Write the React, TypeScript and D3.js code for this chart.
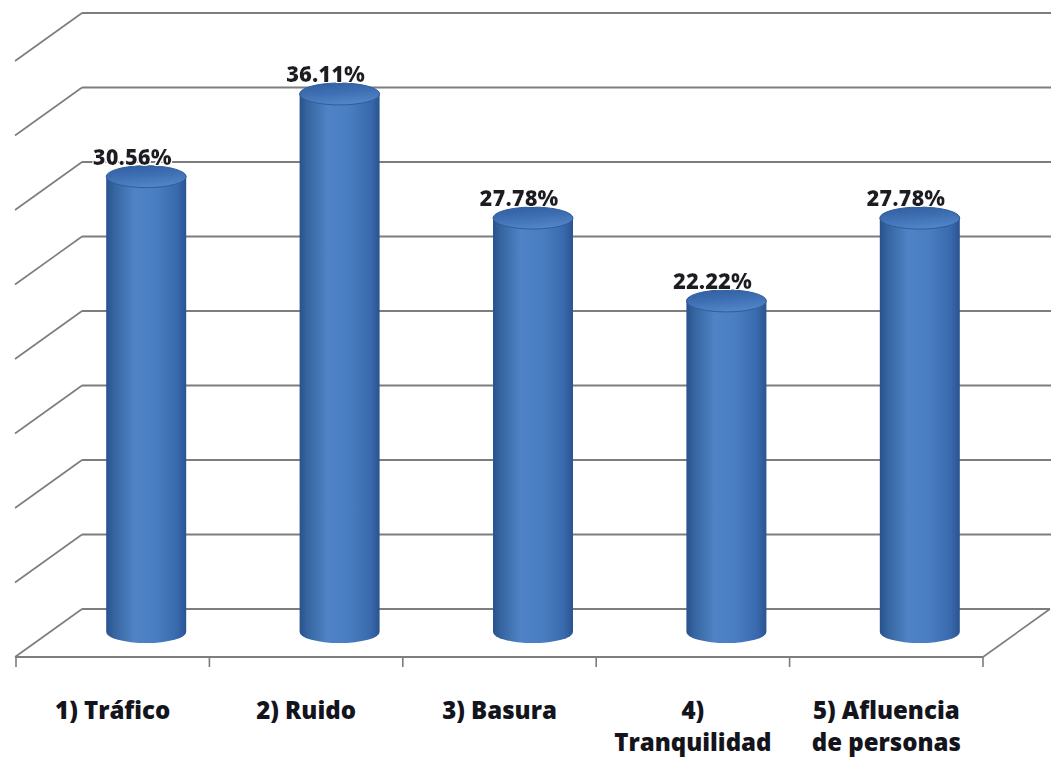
import React from "react";
import * as d3 from "d3";

const categories: string[][] = [
  ["1) Tráfico"],
  ["2) Ruido"],
  ["3) Basura"],
  ["4)", "Tranquilidad"],
  ["5) Afluencia", "de personas"],
];
const values: number[] = [30.56, 36.11, 27.78, 22.22, 27.78];
const valueLabels: string[] = ["30.56%", "36.11%", "27.78%", "22.22%", "27.78%"];
const gridTicks: number[] = [0, 5, 10, 15, 20, 25, 30, 35, 40];

const W = 1051;
const H = 760;
// 3D geometry: back wall vs. front floor edge
const backLeft = 82;
const backRight = 1050;
const depthDX = -67;
const depthDY = 48;
const frontLeft = backLeft + depthDX;
const frontRight = backRight + depthDX;

const FONT = "'Open Sans', 'Noto Sans', sans-serif";

export default function App() {
  const y = d3.scaleLinear().domain([0, 40]).range([609, 13]);
  const x = d3
    .scaleBand<number>()
    .domain(categories.map((_, i) => i))
    .range([frontLeft + 1, frontRight]);

  const rx = 40;
  const ry = 11;
  const midDX = depthDX / 2;
  const midDY = depthDY / 2;
  const floorY = y(0) + midDY - 1;
  const pxPerUnit = y(0) - y(1);

  const gridColor = "#7d7d7d";

  return (
    <svg
      width={W}
      height={H}
      style={{ position: "absolute", left: 0, top: 0, background: "#fff" }}
    >
      <defs>
        <linearGradient id="body" x1="0" x2="1" y1="0" y2="0">
          <stop offset="0%" stopColor="#28528e" />
          <stop offset="10%" stopColor="#36659f" />
          <stop offset="35%" stopColor="#4f83c6" />
          <stop offset="60%" stopColor="#4a7ec2" />
          <stop offset="88%" stopColor="#3a6aae" />
          <stop offset="100%" stopColor="#2a5490" />
        </linearGradient>
        <linearGradient id="top" x1="0" x2="0.3" y1="0" y2="1">
          <stop offset="0%" stopColor="#2f5e9e" />
          <stop offset="55%" stopColor="#3f70b4" />
          <stop offset="100%" stopColor="#5084c6" />
        </linearGradient>
        <filter id="glow" x="-10%" y="-30%" width="120%" height="160%">
          <feMorphology in="SourceAlpha" operator="dilate" radius="1.2" result="d" />
          <feFlood floodColor="#ffffff" />
          <feComposite in2="d" operator="in" result="w" />
          <feMerge>
            <feMergeNode in="w" />
            <feMergeNode in="SourceGraphic" />
          </feMerge>
        </filter>
      </defs>

      {/* back wall gridlines with left diagonals */}
      {gridTicks.map((t) => {
        const yy = y(t);
        return (
          <g key={t}>
            <line
              x1={backLeft}
              x2={t === 0 ? backRight : W}
              y1={yy}
              y2={yy}
              stroke={gridColor}
              strokeWidth={2.2}
            />
            <line
              x1={backLeft}
              y1={yy}
              x2={frontLeft}
              y2={yy + depthDY}
              stroke={gridColor}
              strokeWidth={1.6}
            />
          </g>
        );
      })}
      {/* floor front edge and right diagonal */}
      <line
        x1={frontLeft}
        x2={frontRight}
        y1={y(0) + depthDY}
        y2={y(0) + depthDY}
        stroke={gridColor}
        strokeWidth={2}
      />
      <line
        x1={frontRight}
        y1={y(0) + depthDY}
        x2={backRight}
        y2={y(0)}
        stroke={gridColor}
        strokeWidth={1.6}
      />
      {/* category tick marks */}
      {categories.map((_, i) => (
        <line
          key={"t" + i}
          x1={x(i)!}
          x2={x(i)!}
          y1={y(0) + depthDY}
          y2={y(0) + depthDY + 10}
          stroke={gridColor}
          strokeWidth={1.6}
        />
      ))}
      <line
        x1={frontRight}
        x2={frontRight}
        y1={y(0) + depthDY}
        y2={y(0) + depthDY + 10}
        stroke={gridColor}
        strokeWidth={1.6}
      />

      {/* cylinders */}
      {values.map((v, i) => {
        const cx = x(i)! + x.bandwidth() / 2 - midDX;
        const topY = floorY - v * pxPerUnit;
        const body = `M${cx - rx},${topY} L${cx - rx},${floorY} A${rx},${ry} 0 0 0 ${cx + rx},${floorY} L${cx + rx},${topY} Z`;
        return (
          <g key={"c" + i}>
            <path d={body} fill="url(#body)" />
            <ellipse
              cx={cx}
              cy={topY}
              rx={rx}
              ry={ry}
              fill="url(#top)"
              stroke="#2f5d9c"
              strokeWidth={1}
            />
          </g>
        );
      })}

      {/* value labels */}
      {values.map((v, i) => {
        const cx = x(i)! + x.bandwidth() / 2 - midDX - 14;
        const topY = floorY - v * pxPerUnit;
        return (
          <text
            key={"v" + i}
            x={cx}
            y={topY - ry - 1}
            textAnchor="middle"
            fontFamily={FONT}
            fontWeight={800}
            fontSize={22}
            fill="#1c1c24"
            filter="url(#glow)"
          >
            {valueLabels[i]}
          </text>
        );
      })}

      {/* category labels */}
      {categories.map((lines, i) => {
        const cx = x(i)! + x.bandwidth() / 2;
        return (
          <text
            key={"l" + i}
            x={cx}
            y={719}
            textAnchor="middle"
            fontFamily={FONT}
            fontWeight={800}
            fontSize={24}
            fill="#14141c"
          >
            {lines.map((ln, j) => (
              <tspan key={j} x={cx} dy={j === 0 ? 0 : 32}>
                {ln}
              </tspan>
            ))}
          </text>
        );
      })}
    </svg>
  );
}
